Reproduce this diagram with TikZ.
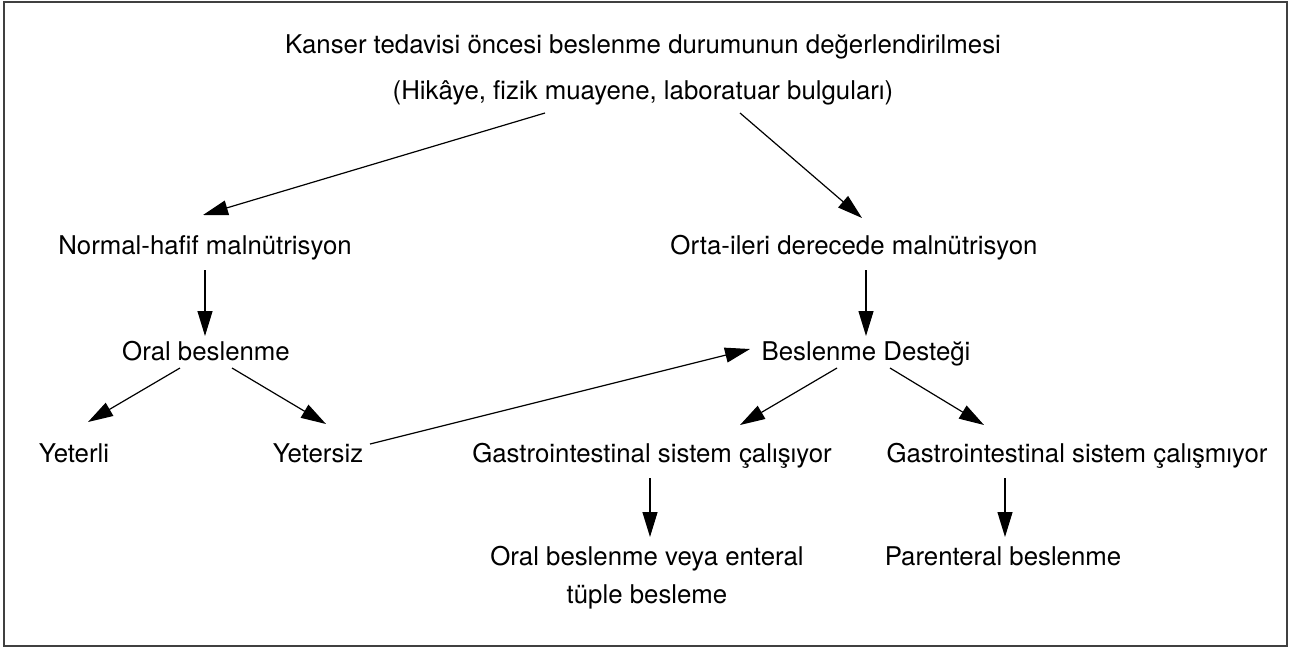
\documentclass[tikz,border=0pt]{standalone}
\usepackage{fontspec}
\setmainfont{TeX Gyre Heros}
\usepackage{tikz}
\usetikzlibrary{arrows.meta,positioning,calc}

\tikzset{
    lbl/.style={anchor=base, inner sep=0pt, font=\fontsize{12.9}{19}\selectfont},
    arr/.style={-{Triangle[length=12.5pt, width=7.5pt]}, line width=0.6pt}
}

\begin{document}
\begin{tikzpicture}[x=0.5pt, y=-0.5pt]
    \useasboundingbox (0, 0) rectangle (1289, 648);
    % çerçeve
    \draw[line width=1pt, black!75] (4, 1.5) rectangle (1287, 646);

    % başlık
    \node[lbl] (kan) at (643, 54) {Kanser tedavisi öncesi beslenme durumunun değerlendirilmesi};
    \node[lbl] (hik) at (643, 99) {(Hikâye, fizik muayene, laboratuar bulguları)};

    % ikinci ve üçüncü satır
    \node[lbl] (nhm) at (205, 254) {Normal-hafif malnütrisyon};
    \node[lbl] (oim) at (854, 254) {Orta-ileri derecede malnütrisyon};
    \node[lbl] (orb) at (206, 360) {Oral beslenme};
    \node[lbl] (bsd) at (866, 360) {Beslenme Desteği};

    % alt satırlar
    \node[lbl] (yet) at (74, 462) {Yeterli};
    \node[lbl] (yts) at (318, 462) {Yetersiz};
    \node[lbl] (gic) at (652, 462) {Gastrointestinal sistem çalışıyor};
    \node[lbl] (gim) at (1077, 462) {Gastrointestinal sistem çalışmıyor};
    \node[lbl, align=center] (obv) at (647, 603) {Oral beslenme veya enteral\\tüple besleme};
    \node[lbl] (par) at (1003, 565) {Parenteral beslenme};

    % oklar
    \draw[arr] ([shift={(-98, 14)}]hik.base) -- ([shift={(-2, -39)}]nhm.base);
    \draw[arr] ([shift={(97, 14)}]hik.base) -- ([shift={(8, -36)}]oim.base);
    \draw[arr] ([shift={(0, 16)}]nhm.base) -- ([shift={(0, -24)}]nhm.base |- orb.base);
    \draw[arr] ([shift={(12, 16)}]oim.base) -- ([shift={(0, -24)}]bsd.base);
    \draw[arr] ([shift={(-26, 8)}]orb.base) -- ([shift={(14, -40)}]yet.base);
    \draw[arr] ([shift={(26, 8)}]orb.base) -- ([shift={(8, -38)}]yts.base);
    \draw[arr] ([shift={(52, -18)}]yts.base) -- ([shift={(-116, -11)}]bsd.base);
    \draw[arr] ([shift={(-29, 8)}]bsd.base) -- ([shift={(88, -37)}]gic.base);
    \draw[arr] ([shift={(24, 8)}]bsd.base) -- ([shift={(-93, -37)}]gim.base);
    \draw[arr] ([shift={(-2, 16)}]gic.base) -- ([shift={(3, -66)}]obv.base);
    \draw[arr] ([shift={(-72, 16)}]gim.base) -- ([shift={(2, -28)}]par.base);
\end{tikzpicture}
\end{document}
